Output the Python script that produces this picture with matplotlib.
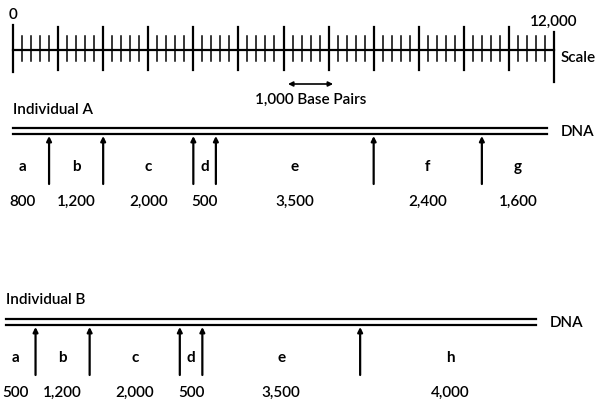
import numpy as np
import matplotlib.pyplot as plt

plt.rcParams['font.family'] = ['Lato', 'DejaVu Sans']

# fragment sizes (base pairs)
frag_a_names = ['a', 'b', 'c', 'd', 'e', 'f', 'g']
frag_a_sizes = [800, 1200, 2000, 500, 3500, 2400, 1600]
frag_b_names = ['a', 'b', 'c', 'd', 'e', 'h']
frag_b_sizes = [500, 1200, 2000, 500, 3500, 4000]
scale_max = 12000
major_step = 1000
minor_step = 200

fig = plt.figure(figsize=(6, 4.08), dpi=100)
ax = fig.add_axes([0, 0, 1, 1])
bp_per_px = scale_max / 541.0
ax.set_xlim(-13 * bp_per_px, 587 * bp_per_px)
ax.set_ylim(408, 0)
ax.axis('off')

fs = 11
fw = 'semibold'

# scale bar
ax.plot([0, scale_max], [50, 50], color='black', lw=1.6)
for t in np.arange(0, scale_max + 1, minor_step):
    if t % major_step == 0:
        if t == 0:
            y0, y1 = 25, 72
        elif t == scale_max:
            y0, y1 = 32, 82
        else:
            y0, y1 = 27, 70
        ax.plot([t, t], [y0, y1], color='black', lw=1.6)
    else:
        ax.plot([t, t], [36, 61], color='black', lw=1.1)
ax.text(0, 15, '0', ha='center', va='center', fontsize=fs, fontweight=fw)
ax.text(scale_max, 22, '12,000', ha='center', va='center', fontsize=fs, fontweight=fw)
ax.text(scale_max + 150, 58, 'Scale', ha='left', va='center', fontsize=fs, fontweight=fw)

# 1,000 base pairs arrow
ax.annotate('', xy=(6100, 84), xytext=(7100, 84),
            arrowprops=dict(arrowstyle='<|-|>', color='black', lw=1.2, mutation_scale=7,
                            shrinkA=0, shrinkB=0))
ax.text(6600, 100, '1,000 Base Pairs', ha='center', va='center', fontsize=fs, fontweight=fw)


def draw_individual(name, names, sizes, y_title, y_line, line_start, line_end):
    ax.text(line_start, y_title, name, ha='left', va='center', fontsize=fs, fontweight=fw)
    ax.plot([line_start, line_end], [y_line, y_line], color='black', lw=1.6)
    ax.plot([line_start, line_end], [y_line + 6, y_line + 6], color='black', lw=1.6)
    ax.text(line_end + 300, y_line + 4, 'DNA', ha='left', va='center', fontsize=fs, fontweight=fw)
    cuts = np.cumsum(sizes)
    starts = np.concatenate([[0], cuts[:-1]])
    for c in cuts[:-1]:
        ax.annotate('', xy=(c, y_line + 8), xytext=(c, y_line + 56),
                    arrowprops=dict(arrowstyle='-|>', color='black', lw=1.6,
                                    mutation_scale=7, shrinkA=0, shrinkB=0))
    for i, (n, s) in enumerate(zip(names, sizes)):
        mid = starts[i] + s / 2
        if i == 0:
            mid -= 200
        ax.text(mid, y_line + 39, n, ha='center', va='center', fontsize=fs, fontweight='bold')
        ax.text(mid, y_line + 74, f'{s:,}', ha='center', va='center', fontsize=fs, fontweight=fw)


draw_individual('Individual A', frag_a_names, frag_a_sizes, 110, 128, 0, 11850)
draw_individual('Individual B', frag_b_names, frag_b_sizes, 300, 319, -150, sum(frag_b_sizes) - 100)

fig.savefig('out.png', dpi=100)
